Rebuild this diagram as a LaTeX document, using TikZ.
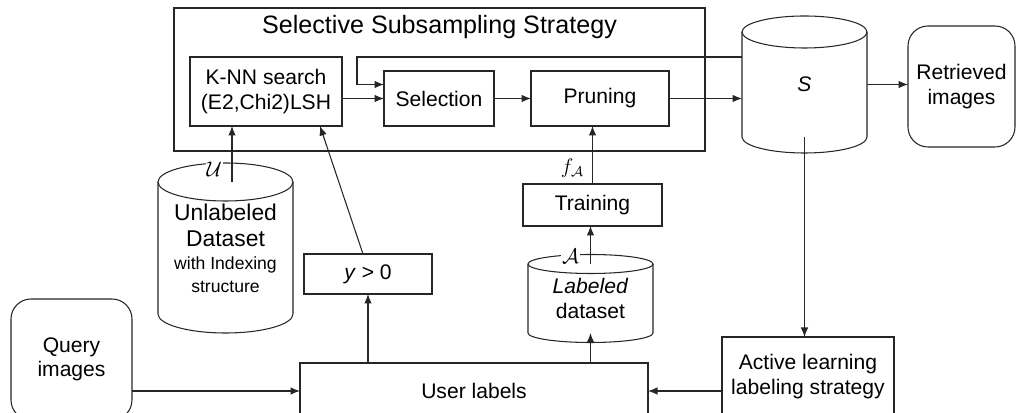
\documentclass[tikz,border=0pt]{standalone}
\usepackage{fontspec}
\setmainfont{Liberation Sans}
\usetikzlibrary{arrows.meta,positioning}
\newcommand{\bodyfont}{\fontsize{12}{14}\selectfont}
\newcommand{\smallfont}{\fontsize{10}{11.5}\selectfont}
\tikzset{
  wire/.style={line width=0.6pt, draw=black!85},
  arr/.style={wire, -{Latex[length=1.9mm, width=1.5mm]}},
  box/.style={wire, rectangle, align=center, font=\bodyfont, inner sep=2pt, outer sep=0pt},
  softbox/.style={box, rounded corners=4mm},
  drum/.style={rectangle, align=center, font=\bodyfont, inner sep=0pt, outer sep=0pt},
  sym/.style={fill=white, inner sep=0.6pt, font=\bodyfont}
}
% outline of a standing cylinder round a named node
\newcommand{\drumoutline}[3]{%
  \draw[wire] (#1.north west) -- (#1.south west)
    arc[start angle=180, end angle=360, x radius=#2, y radius=#3] -- (#1.north east);
  \draw[wire] (#1.north) ellipse[x radius=#2, y radius=#3];
}

\begin{document}
\begin{tikzpicture}[x=1cm,y=1cm]
\useasboundingbox (0,0) rectangle (20.34,8.26);
\clip (0,0) rectangle (20.34,8.26);

% subsampling block
\node[box, minimum width=10.62cm, minimum height=2.86cm] (frame) at (8.79,6.67) {};
\node[font=\fontsize{14.3}{17}\selectfont] (title) at (8.79,7.72) {Selective Subsampling Strategy};
\node[box, minimum width=3.04cm, minimum height=1.38cm] (knn) at (5.32,6.43) {K-NN search\\(E2,Chi2)LSH};
\node[box, minimum width=2.20cm, minimum height=1.10cm] (sel) at (8.78,6.29) {Selection};
\node[box, minimum width=2.76cm, minimum height=1.10cm] (prune) at (12.00,6.29) {Pruning};

% stores
\node[drum, minimum width=2.50cm, minimum height=2.10cm] (S) at (16.09,6.57) {\textit{S}};
\drumoutline{S}{1.25cm}{0.32cm}
\node[drum, minimum width=2.70cm, minimum height=2.64cm, font=\fontsize{13}{15}\selectfont] (unl) at (4.51,3.30)
  {Unlabeled\\Dataset\\[-2pt]\smallfont with Indexing\\[-2pt]\smallfont structure};
\drumoutline{unl}{1.35cm}{0.38cm}
\node[drum, minimum width=2.50cm, minimum height=1.38cm] (lab) at (11.81,2.29) {\textit{Labeled}\\dataset};
\drumoutline{lab}{1.25cm}{0.19cm}

% other steps
\node[softbox, minimum width=2.14cm, minimum height=2.42cm] (ret) at (19.23,6.53) {Retrieved\\images};
\node[box, minimum width=2.56cm, minimum height=0.80cm] (ypos) at (7.36,2.78) {\textit{y} > 0};
\node[box, minimum width=2.78cm, minimum height=0.84cm] (train) at (11.85,4.16) {Training};
\node[softbox, minimum width=2.42cm, minimum height=2.42cm] (query) at (1.43,1.07) {Query\\images};
\node[box, minimum width=6.96cm, minimum height=1.12cm] (user) at (9.48,0.44) {User labels};
\node[box, minimum width=3.44cm, minimum height=1.58cm] (active) at (16.16,0.73) {Active learning\\labeling strategy};

\coordinate (uin) at ([xshift=0.13cm]unl.north);
\coordinate (loop) at ([xshift=-0.54cm]sel.west);

\draw[arr] (knn.east |- sel.west) -- (sel.west);
\draw[arr] (sel) -- (prune);
\draw[arr] (prune.east) -- (prune.east -| S.west);
\draw[arr] ([yshift=0.55cm]S.west) -| (loop |- S.west) -- (sel.west |- S.west);
\draw[arr] (S.east) -- (S.east -| ret.west);
\draw[arr] (S.south) -- (S.south |- active.north);
\draw[arr] (active.west |- user.east) -- (user.east);
\draw[arr] (query.east |- user.west) -- (user.west);
\draw[arr] (ypos.south |- user.north) -- (ypos.south);
\draw[arr] ([xshift=-0.1cm]ypos.north) -- ([xshift=1.08cm]knn.south);
\draw[arr] (uin) -- node[sym, left=0.17cm, pos=0.22] {$\mathcal{U}$} (uin |- knn.south);
\draw[arr] (lab.south |- user.north) -- (lab.south);
\draw[arr] (lab.north) -- node[sym, left=0.2cm, pos=0.21] {$\mathcal{A}$} (lab.north |- train.south);
\draw[arr] (train.north) -- node[sym, left=0.14cm, pos=0.28] {$f_{\mathcal{A}}$} (train.north |- prune.south);
\end{tikzpicture}
\end{document}
